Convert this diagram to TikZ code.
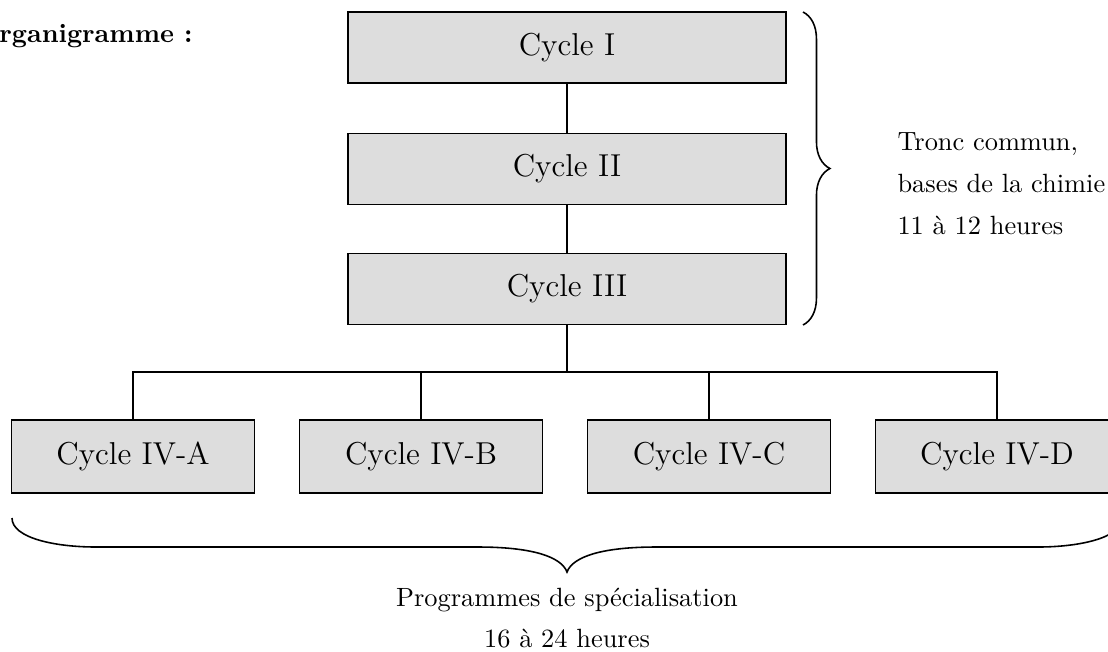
\documentclass[tikz,border=0pt]{standalone}
\usepackage{fontspec}
\usetikzlibrary{decorations.pathreplacing}
\definecolor{boxgray}{RGB}{221,221,221}
\begin{document}
\begin{tikzpicture}[x=0.379pt,y=-0.379pt,
  cyclebox/.style={draw=black, line width=0.55pt, fill=boxgray, inner sep=0pt,
    font=\fontsize{12}{14}\selectfont},
  topbox/.style={cyclebox, minimum width=166pt, minimum height=26.9pt},
  subbox/.style={cyclebox, minimum width=92.1pt, minimum height=27.7pt},
  link/.style={line width=0.55pt},
  lbl/.style={font=\fontsize{10}{12}\selectfont, inner sep=0pt}]
\useasboundingbox (0,0) rectangle (1108,651);

\node[lbl, font=\fontsize{10}{12}\selectfont\bfseries, anchor=base east] (title) at (193,42) {Organigramme :};

\node[topbox] (c1) at (567,47.5) {Cycle I};
\node[topbox] (c2) at (567,169) {Cycle II};
\node[topbox] (c3) at (567,289) {Cycle III};

\node[subbox] (c4a) at (133,456.5) {Cycle IV-A};
\node[subbox] (c4b) at (421,456.5) {Cycle IV-B};
\node[subbox] (c4c) at (709,456.5) {Cycle IV-C};
\node[subbox] (c4d) at (997,456.5) {Cycle IV-D};

\coordinate (bus) at (567,372);

\draw[link] (c1) -- (c2);
\draw[link] (c2) -- (c3);
\draw[link] (c3) -- (bus);
\draw[link] (c4a.north) |- (bus) -| (c4d.north);
\draw[link] (c4b.north) -- (c4b.north |- bus);
\draw[link] (c4c.north) -- (c4c.north |- bus);

% right brace
\coordinate (rbtop) at (803,12);
\coordinate (rbbot) at (803,325);
\draw[line width=0.6pt, decorate, decoration={brace, amplitude=10.2pt}] (rbtop) -- (rbbot);

\node[lbl, anchor=base west] (t1) at (897,150) {Tronc commun,};
\node[lbl, anchor=base west] (t2) at (897,192) {bases de la chimie};
\node[lbl, anchor=base west] (t3) at (897,234) {11 à 12 heures};

% bottom brace
\draw[line width=0.6pt]
  (12,518) .. controls (12,538) and (55,547) .. (96,547)
  -- (478,547) .. controls (530,547) and (561,556) .. (567,572)
  .. controls (573,556) and (604,547) .. (656,547)
  -- (1038,547) .. controls (1079,547) and (1122,538) .. (1122,518);

\node[lbl, anchor=base] (b1) at (567,606) {Programmes de spécialisation};
\node[lbl, anchor=base] (b2) at (567,647) {16 à 24 heures};
\end{tikzpicture}
\end{document}
